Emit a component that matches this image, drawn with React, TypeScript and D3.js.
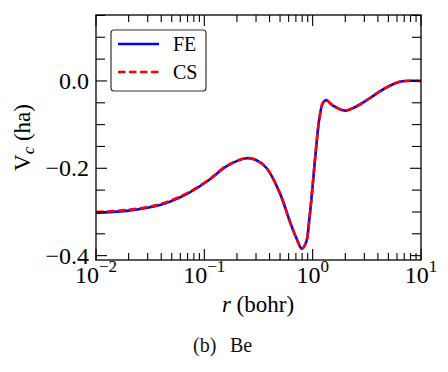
import React, {useEffect, useRef} from 'react'
import * as d3 from 'd3'

// radial grid (bohr) and correlation potential (ha)
const feR = [0.01, 0.0192, 0.039, 0.0687, 0.113, 0.161, 0.246, 0.3, 0.377, 0.5, 0.618, 0.713, 0.792, 0.869, 0.933, 1.0, 1.075, 1.153, 1.24, 1.33, 1.55, 1.99, 2.55, 3.39, 4.5, 6.41, 10]
const feV = [-0.302, -0.2975, -0.284, -0.259, -0.225, -0.195, -0.177, -0.181, -0.2, -0.258, -0.323, -0.362, -0.384, -0.37, -0.315, -0.239, -0.154, -0.086, -0.051, -0.044, -0.057, -0.068, -0.058, -0.039, -0.019, -0.002, 0.0]
const csR = [0.01, 0.0192, 0.039, 0.0687, 0.113, 0.161, 0.246, 0.3, 0.377, 0.5, 0.618, 0.713, 0.792, 0.869, 0.933, 1.0, 1.075, 1.153, 1.24, 1.33, 1.55, 1.99, 2.55, 3.39, 4.5, 6.41, 10]
const csV = [-0.3, -0.2955, -0.282, -0.2575, -0.224, -0.194, -0.1765, -0.181, -0.2, -0.258, -0.323, -0.362, -0.384, -0.37, -0.315, -0.239, -0.154, -0.086, -0.051, -0.044, -0.057, -0.068, -0.058, -0.0385, -0.0185, -0.0015, 0.0]

const xTickExps = [-2, -1, 0, 1]
const yMajor = [0, -0.2, -0.4]
const yMinor = [0.15, 0.1, 0.05, -0.05, -0.1, -0.15, -0.25, -0.3, -0.35]

const W = 448
const H = 372
const m = {left: 96, right: 421, top: 15, bottom: 260}
const FONT = "'Liberation Serif', 'Times New Roman', serif"

const App = () => {
  const ref = useRef(null)

  useEffect(() => {
    const svg = d3.select(ref.current)
    svg.selectAll('*').remove()

    const x = d3.scaleLog().domain([0.01, 10]).range([m.left, m.right])
    const y = d3.scaleLinear().domain([-0.41, 0.151]).range([m.bottom, m.top])

    const line = d3.line()
      .x(d => x(d[0]))
      .y(d => y(d[1]))
      .curve(d3.curveCatmullRom.alpha(0.5))

    const fe = feR.map((r, i) => [r, feV[i]])
    const cs = csR.map((r, i) => [r, csV[i]])

    const plot = svg.append('g')
    plot.append('path').datum(fe)
      .attr('d', line)
      .attr('fill', 'none')
      .attr('stroke', '#0000ff')
      .attr('stroke-width', 2.6)
    plot.append('path').datum(cs)
      .attr('d', line)
      .attr('fill', 'none')
      .attr('stroke', '#ff0000')
      .attr('stroke-width', 2.6)
      .attr('stroke-dasharray', '7.5,3.5')

    // ticks, all pointing inward
    const ticks = svg.append('g').attr('stroke', '#000').attr('stroke-width', 1.1)
    x.ticks().forEach(t => {
      const major = xTickExps.some(e => Math.abs(Math.log10(t) - e) < 1e-9)
      const len = major ? 11 : 7
      const px = x(t)
      ticks.append('line').attr('x1', px).attr('x2', px).attr('y1', m.bottom).attr('y2', m.bottom - len)
      ticks.append('line').attr('x1', px).attr('x2', px).attr('y1', m.top).attr('y2', m.top + len)
    })
    const yTick = (v, len) => {
      const py = y(v)
      ticks.append('line').attr('x1', m.left).attr('x2', m.left + len).attr('y1', py).attr('y2', py)
      ticks.append('line').attr('x1', m.right).attr('x2', m.right - len).attr('y1', py).attr('y2', py)
    }
    yMajor.forEach(v => yTick(v, 11))
    yMinor.forEach(v => yTick(v, 9))

    svg.append('rect')
      .attr('x', m.left).attr('y', m.top)
      .attr('width', m.right - m.left).attr('height', m.bottom - m.top)
      .attr('fill', 'none').attr('stroke', '#000').attr('stroke-width', 1.3)

    // x tick labels
    xTickExps.forEach(e => {
      const t = svg.append('text')
        .attr('x', x(Math.pow(10, e)))
        .attr('y', 283)
        .attr('text-anchor', 'middle')
        .attr('font-size', 24)
      t.append('tspan').text('10')
      t.append('tspan').attr('dy', -11).attr('font-size', 17).text(e < 0 ? '\u2212' + (-e) : String(e))
    })

    // y tick labels
    yMajor.forEach(v => {
      svg.append('text')
        .attr('x', 89)
        .attr('y', y(v) + 8)
        .attr('text-anchor', 'end')
        .attr('font-size', 24)
        .text(v === 0 ? '0.0' : '\u2212' + Math.abs(v).toFixed(1))
    })

    // axis labels
    const xl = svg.append('text')
      .attr('x', 258).attr('y', 312)
      .attr('text-anchor', 'middle')
      .attr('font-size', 23)
    xl.append('tspan').attr('font-style', 'italic').text('r')
    xl.append('tspan').text(' (bohr)')

    const yl = svg.append('text')
      .attr('transform', `translate(30,${(m.top + m.bottom) / 2}) rotate(-90)`)
      .attr('text-anchor', 'middle')
      .attr('font-size', 23)
    yl.append('tspan').text('V')
    yl.append('tspan').attr('font-style', 'italic').attr('font-size', 17).attr('dy', 4).text('c')
    yl.append('tspan').attr('dy', -4).text(' (ha)')

    // legend
    const lg = svg.append('g')
    lg.append('rect')
      .attr('x', 111).attr('y', 30).attr('width', 95).attr('height', 61)
      .attr('rx', 3).attr('fill', '#fff')
      .attr('stroke', '#333').attr('stroke-width', 1.2)
    lg.append('line').attr('x1', 118).attr('x2', 159).attr('y1', 44).attr('y2', 44)
      .attr('stroke', '#0000ff').attr('stroke-width', 2.6)
    lg.append('line').attr('x1', 118).attr('x2', 159).attr('y1', 72).attr('y2', 72)
      .attr('stroke', '#ff0000').attr('stroke-width', 2.6).attr('stroke-dasharray', '7.5,3.5')
    lg.append('text').attr('x', 173).attr('y', 51).attr('font-size', 20).text('FE')
    lg.append('text').attr('x', 173).attr('y', 79).attr('font-size', 20).text('CS')

    // caption
    svg.append('text').attr('x', 193).attr('y', 352)
      .attr('font-size', 20).attr('fill', '#111').text('(b)')
    svg.append('text').attr('x', 230).attr('y', 352)
      .attr('font-size', 20).attr('fill', '#111').text('Be')
  }, [])

  return <svg ref={ref} width={W} height={H}
    style={{position: 'absolute', left: 0, top: 0, background: '#fff', fontFamily: FONT}} />
}

export default App
